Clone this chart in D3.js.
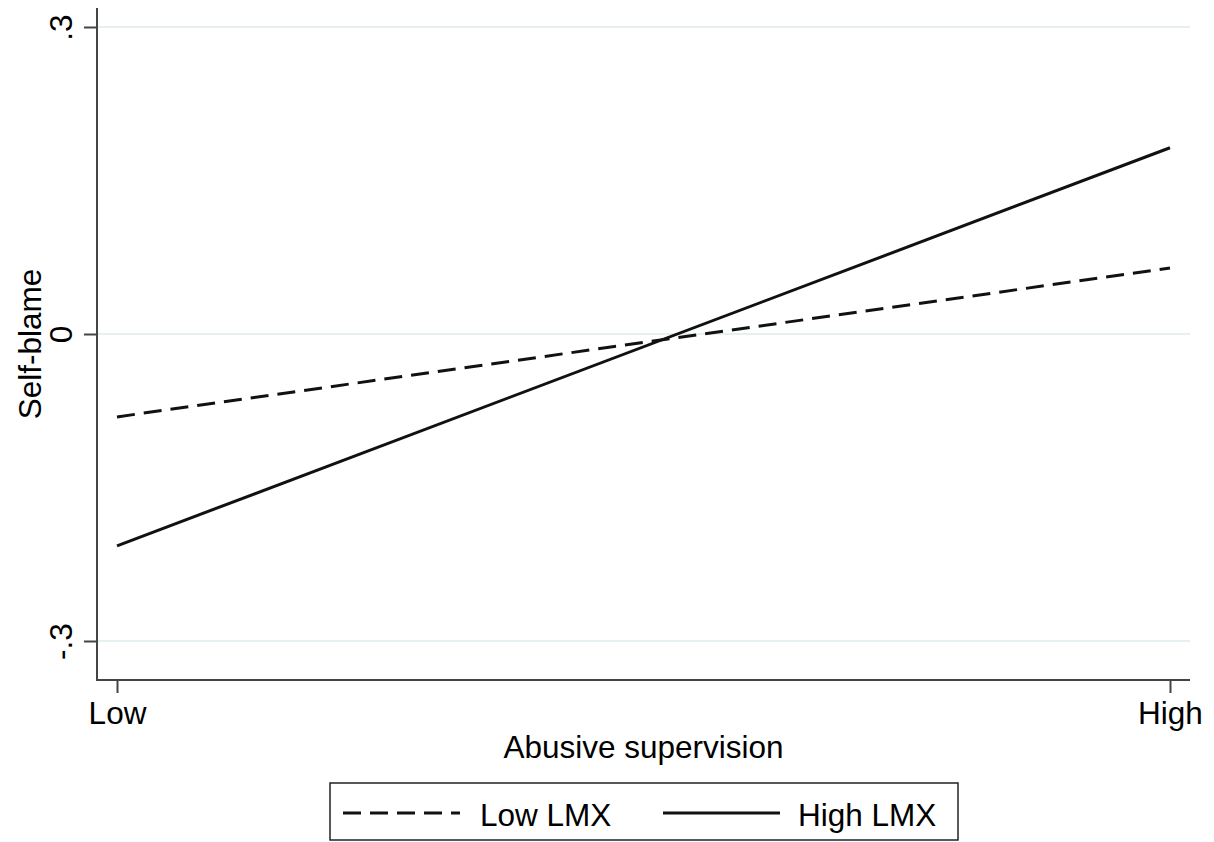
<!DOCTYPE html>
<html><head><meta charset="utf-8">
<script src="https://cdn.jsdelivr.net/npm/d3@7"></script>
<style>
body{margin:0;background:#fff;}
text{font-family:"Liberation Sans",Arial,Helvetica,sans-serif;fill:#000;}
</style></head>
<body>
<svg id="chart" width="1214" height="842"></svg>
<script>
const xCategories = ["Low", "High"];
const lowLMX = [-0.081, 0.0645];
const highLMX = [-0.207, 0.182];
const yTicks = [-0.3, 0, 0.3];
const yTickLabels = ["-.3", "0", ".3"];
const seriesNames = ["Low LMX", "High LMX"];

(function(){
const svg = d3.select("#chart");
const pL = 97, pR = 1190, pT = 8, pB = 680;
const fs = "31.5px";

const x = d3.scalePoint().domain(xCategories).range([117, 1170]);
const y = d3.scaleLinear().domain([-0.3, 0.3]).range([641, 27]);

// gridlines
svg.append("g").selectAll("line").data(yTicks).join("line")
  .attr("x1", pL).attr("x2", pR)
  .attr("y1", d => y(d)).attr("y2", d => y(d))
  .attr("stroke", "#e6eff1").attr("stroke-width", 2);

// y axis
const yAxis = svg.append("g").attr("transform", `translate(${pL},0)`)
  .call(d3.axisLeft(y).tickValues(yTicks).tickSize(13).tickFormat((d,i) => yTickLabels[i]));
yAxis.select(".domain").remove();
yAxis.selectAll(".tick line").attr("stroke", "#444").attr("stroke-width", 2);
yAxis.selectAll(".tick text").remove();
yAxis.selectAll(".tick").append("text")
  .attr("transform", "translate(-25,0) rotate(-90)")
  .attr("text-anchor", "middle")
  .style("font-size", fs)
  .text((d,i) => yTickLabels[i]);
svg.append("line").attr("x1", pL).attr("x2", pL).attr("y1", pT).attr("y2", pB + 1)
  .attr("stroke", "#444").attr("stroke-width", 2);

// x axis
const xAxis = svg.append("g").attr("transform", `translate(0,${pB})`)
  .call(d3.axisBottom(x).tickSize(13));
xAxis.select(".domain").remove();
xAxis.selectAll(".tick line").attr("stroke", "#444").attr("stroke-width", 2);
xAxis.selectAll(".tick text").attr("y", 0).attr("dy", "44px").style("font-size", fs)
  .attr("fill", "#000").style("font-family", "'Liberation Sans',Arial,sans-serif");
svg.append("line").attr("x1", pL - 1).attr("x2", pR).attr("y1", pB).attr("y2", pB)
  .attr("stroke", "#444").attr("stroke-width", 2);

// axis titles
svg.append("text").attr("x", (pL + pR) / 2).attr("y", 758)
  .attr("text-anchor", "middle").style("font-size", fs).text("Abusive supervision");
svg.append("text").attr("transform", `translate(41,${(pT + pB) / 2}) rotate(-90)`)
  .attr("text-anchor", "middle").style("font-size", fs).text("Self-blame");

// lines
const line = d3.line().x((d,i) => x(xCategories[i])).y(d => y(d));
svg.append("path").datum(lowLMX).attr("d", line).attr("fill", "none")
  .attr("stroke", "#111").attr("stroke-width", 3).attr("stroke-dasharray", "18,9");
svg.append("path").datum(highLMX).attr("d", line).attr("fill", "none")
  .attr("stroke", "#111").attr("stroke-width", 3);

// legend
const lg = svg.append("g");
lg.append("rect").attr("x", 330).attr("y", 783).attr("width", 628).attr("height", 57)
  .attr("fill", "#fff").attr("stroke", "#222").attr("stroke-width", 1.5);
const legendItems = [
  {name: seriesNames[0], dash: "18,9", x1: 343, x2: 460, tx: 480},
  {name: seriesNames[1], dash: null, x1: 663, x2: 780, tx: 798}
];
legendItems.forEach(it => {
  lg.append("line").attr("x1", it.x1).attr("x2", it.x2).attr("y1", 813).attr("y2", 813)
    .attr("stroke", "#111").attr("stroke-width", 3).attr("stroke-dasharray", it.dash);
  lg.append("text").attr("x", it.tx).attr("y", 826).style("font-size", fs).text(it.name);
});
})();
</script>
</body></html>
